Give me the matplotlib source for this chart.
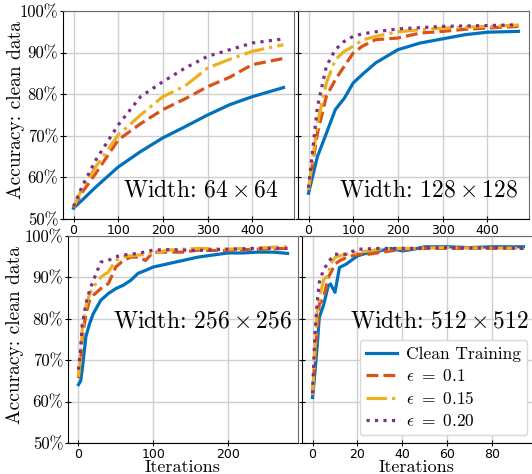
import matplotlib
matplotlib.use("Agg")
import matplotlib.pyplot as plt
from matplotlib.ticker import FixedLocator, FuncFormatter

plt.rcParams['mathtext.fontset'] = 'cm'
plt.rcParams['axes.unicode_minus'] = False

W, H = 532, 474

# ---------------- data (accuracy in %) ----------------
# Width 64x64
x64 = [0, 20, 50, 100, 150, 200, 250, 300, 350, 400, 470]
clean64 = [52.6, 54.6, 57.7, 62.5, 66.2, 69.5, 72.2, 75.0, 77.5, 79.4, 81.6]
e10_64 = [52.8, 56.5, 61.0, 69.0, 72.9, 76.3, 78.9, 81.8, 84.1, 87.1, 88.6]
e15_64 = [52.8, 57.5, 62.6, 70.2, 75.0, 79.4, 82.0, 86.3, 88.4, 90.3, 91.9]
e20_64 = [53.0, 58.0, 64.2, 72.6, 79.4, 83.0, 86.3, 89.1, 90.7, 92.3, 93.3]

# Width 128x128
x128 = [0, 20, 40, 60, 80, 100, 120, 150, 200, 250, 300, 350, 400, 470]
clean128 = [56.2, 65.0, 70.6, 76.3, 79.0, 82.7, 84.7, 87.5, 90.7, 92.3, 93.3, 94.3, 94.9, 95.1]
e10_128 = [57.0, 70.6, 79.5, 83.5, 86.7, 89.9, 91.5, 93.1, 93.5, 94.7, 95.1, 95.6, 95.9, 96.3]
e15_128 = [57.0, 73.0, 82.7, 88.3, 90.3, 91.5, 93.0, 93.9, 95.0, 95.5, 95.9, 96.1, 96.3, 96.6]
e20_128 = [57.5, 77.0, 86.7, 90.7, 92.7, 93.9, 94.5, 95.0, 95.7, 96.0, 96.3, 96.4, 96.5, 96.7]

# Width 256x256
x256 = [0, 3, 5, 10, 15, 20, 30, 40, 50, 60, 70, 80, 90, 100, 120, 140, 160, 180, 200, 220, 240, 260, 280]
clean256 = [64.1, 65.0, 67.7, 75.7, 78.9, 81.3, 84.5, 86.1, 87.3, 88.1, 89.3, 91.0, 91.7, 92.5,
            93.3, 94.1, 94.9, 95.4, 95.9, 95.9, 96.1, 96.1, 95.8]
e10_256 = [65.7, 70.0, 75.0, 81.3, 84.5, 85.7, 87.3, 88.5, 92.5, 94.1, 94.9, 94.9, 94.1, 96.1,
           96.1, 96.1, 96.6, 96.5, 96.5, 96.7, 96.8, 96.9, 97.0]
e15_256 = [66.0, 71.5, 77.3, 83.0, 86.1, 87.7, 90.1, 91.3, 94.1, 95.0, 95.2, 95.4, 95.6, 95.8,
           96.6, 96.8, 97.0, 96.9, 96.8, 97.0, 97.1, 97.3, 97.4]
e20_256 = [67.7, 73.0, 78.5, 83.7, 86.9, 89.3, 93.7, 94.1, 95.0, 95.4, 95.6, 95.8, 96.2, 96.6,
           96.7, 96.6, 96.5, 96.7, 96.8, 96.9, 97.0, 97.0, 97.0]

# Width 512x512
x512 = [0, 1, 2, 3, 5, 7, 8, 10, 12, 15, 20, 25, 30, 35, 40, 45, 50, 60, 70, 80, 94]
clean512 = [61.0, 66.6, 73.0, 80.3, 83.5, 88.0, 88.4, 86.4, 92.4, 93.2, 95.2, 96.0, 96.4, 97.0,
            96.4, 96.8, 97.4, 97.4, 97.2, 97.4, 97.4]
e10_512 = [61.6, 70.0, 77.5, 83.5, 85.2, 90.0, 91.0, 93.2, 94.0, 94.8, 95.6, 95.6, 96.0, 96.4,
           96.8, 96.9, 97.0, 97.0, 97.0, 97.0, 97.0]
e15_512 = [61.6, 72.0, 81.6, 84.8, 89.6, 90.4, 93.2, 94.8, 95.2, 95.6, 96.0, 96.4, 96.8, 96.9,
           97.0, 97.0, 97.1, 97.2, 97.1, 97.1, 97.0]
e20_512 = [62.0, 75.6, 83.6, 88.8, 92.0, 93.5, 94.4, 95.6, 95.6, 95.6, 96.8, 96.9, 97.0, 97.0,
           97.0, 97.0, 97.1, 97.2, 97.1, 97.2, 97.0]

labels = ['Clean Training', r'$\epsilon\ =\ 0.1$', r'$\epsilon\ =\ 0.15$', r'$\epsilon\ =\ 0.20$']
colors = ['#0072BD', '#D95319', '#EDB120', '#7E2F8E']
styles = ['-', '--', '-.', ':']
titles = [r'Width: $64\times 64$', r'Width: $128\times 128$',
          r'Width: $256\times 256$', r'Width: $512\times 512$']
yticks = [50, 60, 70, 80, 90, 100]
xticks = [[0, 100, 200, 300, 400], [0, 100, 200, 300, 400], [0, 100, 200], [0, 20, 40, 60, 80]]

panels = [
    (x64, [clean64, e10_64, e15_64, e20_64]),
    (x128, [clean128, e10_128, e15_128, e20_128]),
    (x256, [clean256, e10_256, e15_256, e20_256]),
    (x512, [clean512, e10_512, e15_512, e20_512]),
]

# pixel boxes: left, top, right, bottom
boxes = [(63, 11, 294, 219), (298, 11, 529, 219), (68, 236, 298, 443), (302, 236, 534, 443)]
text_pos = [(123, 197), (339, 197), (113, 328), (350, 327)]
ylabel_pos = [(16, 110), (15, 335)]
xlabel_pos = [(183, 472), (417, 472)]

fig = plt.figure(figsize=(W / 100, H / 100), dpi=100)
fig.patch.set_facecolor('white')

axes = []
for i, ((xs, series), (l, t, r, b)) in enumerate(zip(panels, boxes)):
    ax = fig.add_axes([l / W, 1 - b / H, (r - l) / W, (b - t) / H])
    ax.set_facecolor('white')
    for ys, c, ls, lab in zip(series, colors, styles, labels):
        ax.plot(xs, ys, color=c, linestyle=ls, linewidth=2.3, label=lab)
    ax.set_ylim(50, 100)
    ax.margins(x=0.05)
    ax.yaxis.set_major_locator(FixedLocator(yticks))
    ax.xaxis.set_major_locator(FixedLocator(xticks[i]))
    ax.grid(True, color='#cfcfcf', linewidth=1.0)
    ax.set_axisbelow(True)
    ax.tick_params(direction='inout', length=5, width=0.8, labelsize=9, pad=1)
    for side in ['top', 'right']:
        ax.spines[side].set_color('#6a6a6a')
    for side in ['left', 'bottom']:
        ax.spines[side].set_color('black')
    if i % 2 == 0:
        ax.yaxis.set_major_formatter(FuncFormatter(lambda v, p: '%d%%' % v))
        ax.tick_params(axis='y', labelsize=12, pad=1)
        for lab in ax.get_yticklabels():
            lab.set_fontfamily('cmr10')
    else:
        ax.set_yticklabels([])
    axes.append(ax)

for (tx, ty) in ylabel_pos:
    fig.text(tx / W, 1 - ty / H, 'Accuracy: clean data', fontfamily='cmr10', fontsize=14,
             rotation=90, ha='center', va='center')
for (tx, ty) in xlabel_pos:
    fig.text(tx / W, 1 - ty / H, 'Iterations', fontfamily='cmr10', fontsize=13,
             ha='center', va='baseline')

for (tx, ty), s in zip(text_pos, titles):
    fig.text(tx / W, 1 - ty / H, s, fontfamily='cmr10', fontsize=17, va='baseline', ha='left')

leg = axes[3].legend(loc='lower right', bbox_to_anchor=(527 / W, 1 - 435 / H),
                     bbox_transform=fig.transFigure, prop={'family': 'cmr10', 'size': 12.5},
                     frameon=True, fancybox=True, framealpha=1, edgecolor='#d8d8d8',
                     borderpad=0.35, labelspacing=0.35, handlelength=1.8, handletextpad=0.5,
                     borderaxespad=0)

fig.savefig('out.png', dpi=100, facecolor='white')
